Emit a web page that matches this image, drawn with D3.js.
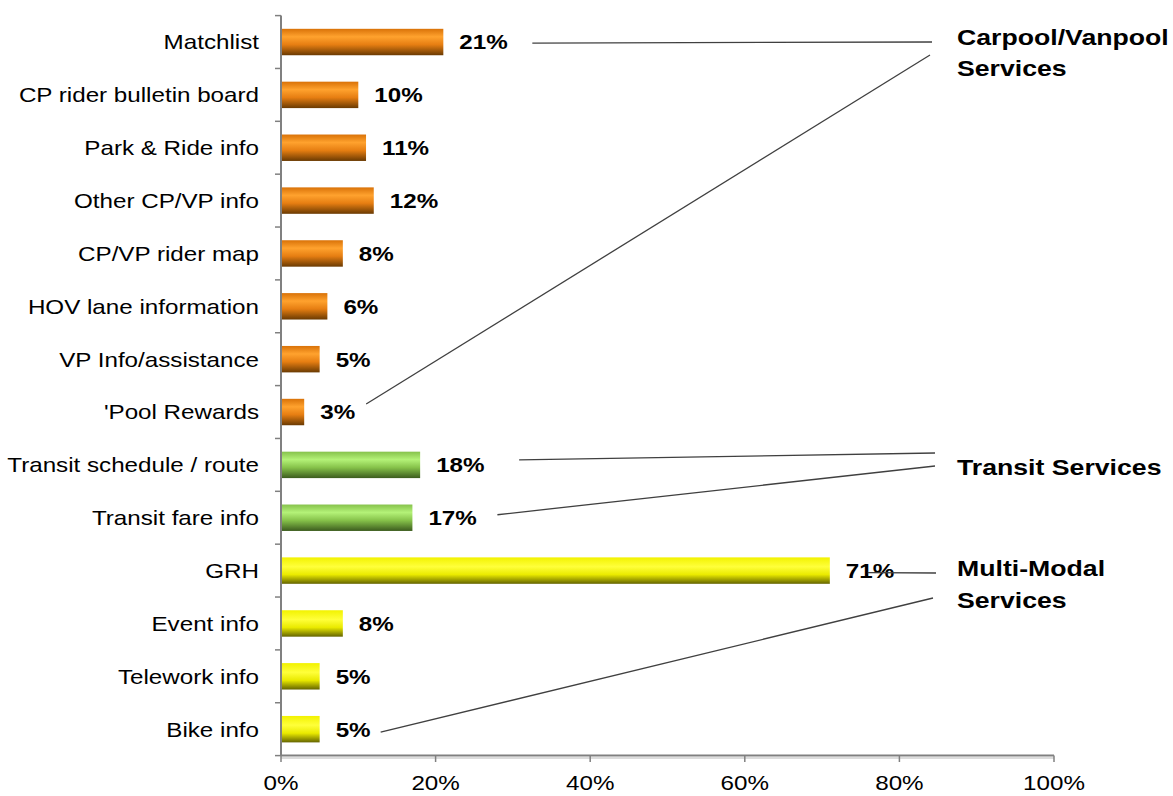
<!DOCTYPE html>
<html><head><meta charset="utf-8">
<script src="https://cdn.jsdelivr.net/npm/d3@7"></script>
<style>body{margin:0;background:#fff}svg{display:block}text{font-family:Arial,"Liberation Sans",sans-serif}</style>
</head><body><div id="chart"></div>
<script>
const categories = ["Matchlist","CP rider bulletin board","Park & Ride info","Other CP/VP info","CP/VP rider map","HOV lane information","VP Info/assistance","'Pool Rewards","Transit schedule / route","Transit fare info","GRH","Event info","Telework info","Bike info"];
const values = [21,10,11,12,8,6,5,3,18,17,71,8,5,5];
const groups = ["cp","cp","cp","cp","cp","cp","cp","cp","tr","tr","mm","mm","mm","mm"];
const xTicks = [0,20,40,60,80,100];
const groupLabels = [
  {lines:["Carpool/Vanpool","Services"], first:0, last:7},
  {lines:["Transit Services"], first:8, last:9},
  {lines:["Multi-Modal","Services"], first:10, last:13}
];

const W=1173,H=796, SX=1.18;
const svg=d3.select("#chart").append("svg").attr("width",W).attr("height",H);
const x=d3.scaleLinear().domain([0,100]).range([281,1054]);
const y=d3.scaleBand().domain(categories).range([15.6,755.6]).paddingInner(0.5).paddingOuter(0.25);

function txt(parent,tx,ty,s,opts){
  const g=parent.append("g").attr("transform",`translate(${tx},${ty}) scale(${SX},1)`);
  const t=g.append("text").attr("x",0).attr("y",0).attr("dy","0.36em")
    .attr("font-size",opts.size||21).attr("fill","#000")
    .attr("text-anchor",opts.anchor||"start").text(s);
  if(opts.bold) t.attr("font-weight","bold");
  return t;
}

const defs=svg.append("defs");
const grads={
  cp:[["0%","#D97208"],["30%","#FFA22E"],["60%","#E67E12"],["100%","#6A3A02"]],
  tr:[["0%","#86C24C"],["30%","#B4F278"],["60%","#86C24A"],["100%","#3C5C1E"]],
  mm:[["0%","#F2F200"],["35%","#FFFF3A"],["65%","#EAEA00"],["100%","#646400"]]
};
Object.entries(grads).forEach(([k,stops])=>{
  const g=defs.append("linearGradient").attr("id","g-"+k).attr("x1",0).attr("x2",0).attr("y1",0).attr("y2",1);
  stops.forEach(s=>g.append("stop").attr("offset",s[0]).attr("stop-color",s[1]));
});

// bars
svg.append("g").selectAll("rect").data(values).join("rect")
  .attr("x",x(0)).attr("y",(d,i)=>y(categories[i]))
  .attr("width",d=>x(d)-x(0)).attr("height",y.bandwidth())
  .attr("fill",(d,i)=>"url(#g-"+groups[i]+")");

// value labels
const vl=svg.append("g");
values.forEach((d,i)=>txt(vl,x(d)+16,y(categories[i])+y.bandwidth()/2,d+"%",{bold:true,size:20.5}));

// y axis
const step=y.step();
const yAxisG=svg.append("g");
yAxisG.append("line").attr("x1",x(0)).attr("x2",x(0)).attr("y1",15.6).attr("y2",755.6).attr("stroke","#808080").attr("stroke-width",2);
const boundaries=d3.range(categories.length+1).map(i=>15.6+i*step);
yAxisG.selectAll(".yt").data(boundaries).join("line")
  .attr("x1",x(0)-6).attr("x2",x(0)).attr("y1",d=>d).attr("y2",d=>d).attr("stroke","#808080").attr("stroke-width",1.5);
categories.forEach(c=>txt(yAxisG,259,y(c)+y.bandwidth()/2,c,{anchor:"end",size:20.5}));

// x axis
const xa=svg.append("g");
xa.append("line").attr("x1",x(0)).attr("x2",x(100)).attr("y1",755.6).attr("y2",755.6).attr("stroke","#808080").attr("stroke-width",2);
xa.append("line").attr("x1",x(0)).attr("x2",x(100)).attr("y1",758).attr("y2",758).attr("stroke","#D0D0D0").attr("stroke-width",1.5);
xa.selectAll(".xt").data(xTicks).join("line")
  .attr("x1",d=>x(d)).attr("x2",d=>x(d)).attr("y1",755.6).attr("y2",762).attr("stroke","#808080").attr("stroke-width",1.5);
xTicks.forEach(d=>txt(xa,x(d),783,d+"%",{anchor:"middle",size:20.5}));

// group labels with leader lines
const cy=i=>y(categories[i])+y.bandwidth()/2;
const lab=svg.append("g");
const gl=[
  {lines:groupLabels[0].lines, tx:957, ty:[37,68], leaders:[[x(values[0])+89,cy(0)+1,932,42],[x(values[7])+62,cy(7)-8,930,55]]},
  {lines:groupLabels[1].lines, tx:957, ty:[467], leaders:[[x(values[8])+99,cy(8)-5,935,453],[x(values[9])+85,cy(9)-3,935,466]]},
  {lines:groupLabels[2].lines, tx:957, ty:[568,600], leaders:[[x(values[10])+38,cy(10)+2,936,573],[x(values[13])+61,cy(13)+3,933,598]]}
];
gl.forEach(g=>{
  g.leaders.forEach(l=>lab.append("line").attr("x1",l[0]).attr("y1",l[1]).attr("x2",l[2]).attr("y2",l[3]).attr("stroke","#404040").attr("stroke-width",1.3));
  g.lines.forEach((t,k)=>txt(lab,g.tx,g.ty[k],t,{bold:true,size:22.6}));
});
</script></body></html>
